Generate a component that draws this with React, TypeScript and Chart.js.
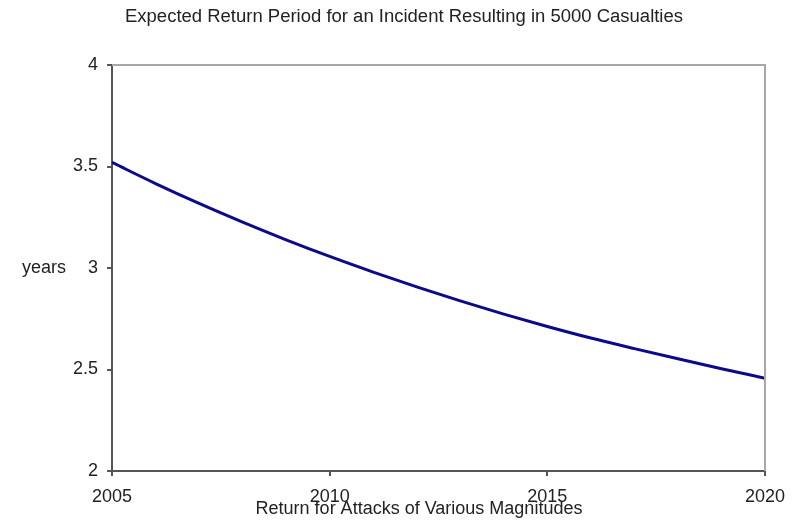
import React, { useEffect, useRef } from "react";
import { Chart, registerables } from "chart.js";

Chart.register(...registerables);

const years = [2005, 2006, 2007, 2008, 2009, 2010, 2011, 2012, 2013, 2014, 2015, 2016, 2017, 2018, 2019, 2020];
const returnPeriod = [3.52, 3.416, 3.318, 3.226, 3.139, 3.057, 2.98, 2.907, 2.838, 2.773, 2.712, 2.655, 2.603, 2.553, 2.504, 2.457];
const yTickValues = [2, 2.5, 3, 3.5, 4];
const xTickValues = [2005, 2010, 2015, 2020];

const titleText = "Expected Return Period for an Incident Resulting in 5000 Casualties";
const xTitleText = "Return for Attacks of Various Magnitudes";
const yTitleText = "years";

const FONT = "'Liberation Sans', Arial, sans-serif";

const textPlugin = {
  id: "customTexts",
  afterDraw(chart: any) {
    const ctx = chart.ctx;
    const a = chart.chartArea;
    ctx.save();
    // top and right frame lines
    ctx.strokeStyle = "#a8a8a8";
    ctx.lineWidth = 2;
    ctx.beginPath();
    ctx.moveTo(a.left, a.top);
    ctx.lineTo(a.right, a.top);
    ctx.lineTo(a.right, a.bottom);
    ctx.stroke();

    ctx.fillStyle = "#222";
    // title, fitted to width
    ctx.font = `18px ${FONT}`;
    ctx.textBaseline = "alphabetic";
    ctx.textAlign = "center";
    const w = ctx.measureText(titleText).width;
    const target = 558;
    const sx = target / w;
    ctx.save();
    ctx.translate(404, 22);
    ctx.scale(sx, 1);
    ctx.fillText(titleText, 0, 0);
    ctx.restore();

    // x title
    ctx.textAlign = "center";
    ctx.fillText(xTitleText, 419, 514);

    // y title
    ctx.textAlign = "left";
    ctx.textBaseline = "middle";
    ctx.fillText(yTitleText, 22, 268);
    ctx.restore();
  },
};

export default function App() {
  const ref = useRef<HTMLCanvasElement>(null);
  useEffect(() => {
    if (!ref.current) return;
    const chart = new Chart(ref.current, {
      type: "line",
      data: {
        datasets: [
          {
            data: years.map((x, i) => ({ x, y: returnPeriod[i] })),
            borderColor: "#0a0a8a",
            borderWidth: 3,
            pointRadius: 0,
            cubicInterpolationMode: "monotone",
            fill: false,
          },
        ],
      },
      options: {
        responsive: false,
        animation: false,
        layout: { padding: { top: 65, right: 33, left: 0, bottom: 0 } },
        plugins: { legend: { display: false }, title: { display: false }, tooltip: { enabled: false } },
        scales: {
          x: {
            type: "linear",
            min: 2005,
            max: 2020,
            afterFit: (s: any) => {
              s.height = 55;
            },
            afterBuildTicks: (s: any) => {
              s.ticks = xTickValues.map((v) => ({ value: v }));
            },
            ticks: {
              callback: (v: any) => String(v),
              font: { family: FONT, size: 18 },
              color: "#222",
              padding: 10,
              maxRotation: 0,
              autoSkip: false,
            },
            grid: { drawOnChartArea: false, drawTicks: true, tickLength: 5, color: "#555", lineWidth: 2 },
            border: { color: "#555", width: 2 },
          },
          y: {
            min: 2,
            max: 4,
            afterFit: (s: any) => {
              s.width = 112;
            },
            afterBuildTicks: (s: any) => {
              s.ticks = yTickValues.map((v) => ({ value: v }));
            },
            ticks: {
              callback: (v: any) => String(v),
              font: { family: FONT, size: 18 },
              color: "#222",
              padding: 9,
            },
            grid: { drawOnChartArea: false, drawTicks: true, tickLength: 5, color: "#555", lineWidth: 2 },
            border: { color: "#555", width: 2 },
          },
        },
      },
      plugins: [textPlugin],
    } as any);
    return () => chart.destroy();
  }, []);
  return (
    <div style={{ position: "absolute", left: 0, top: 0, width: 798, height: 526, background: "#fff" }}>
      <canvas ref={ref} width={798} height={526} style={{ display: "block" }} />
    </div>
  );
}
